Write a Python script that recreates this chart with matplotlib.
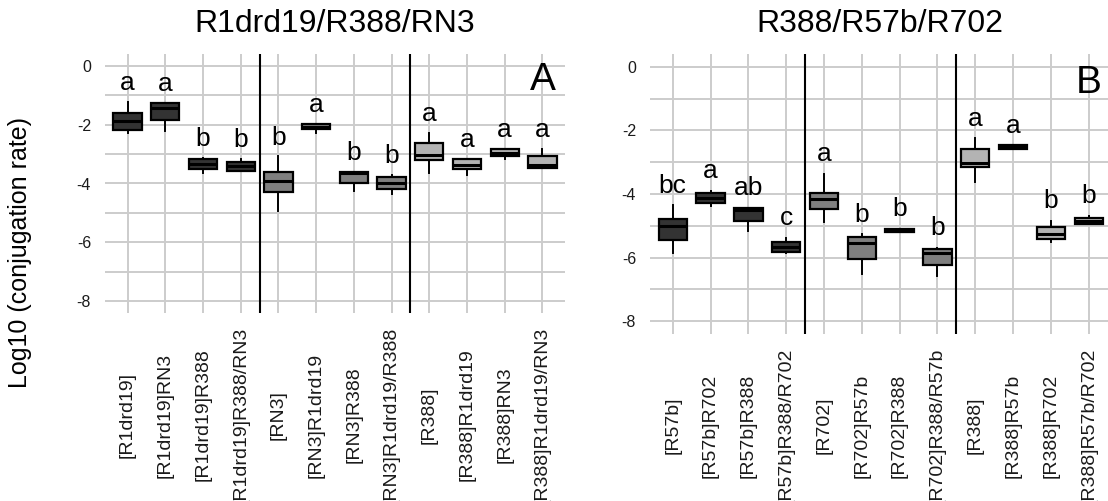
import numpy as np
import matplotlib.pyplot as plt

plt.rcParams['font.family'] = ['Liberation Sans', 'DejaVu Sans']

# R1drd19 / R388 / RN3 combinations
labels_a = ['[R1drd19]', '[R1drd19]RN3', '[R1drd19]R388', '[R1drd19]R388/RN3',
            '[RN3]', '[RN3]R1drd19', '[RN3]R388', '[RN3]R1drd19/R388',
            '[R388]', '[R388]R1drd19', '[R388]RN3', '[R388]R1drd19/RN3']
letters_a = ['a', 'a', 'b', 'b', 'b', 'a', 'b', 'b', 'a', 'a', 'a', 'a']
lo_a = [-2.27, -2.23, -3.66, -3.56, -4.94, -2.27, -4.24, -4.37, -3.64, -3.70, -3.17, -3.47]
q1_a = [-2.17, -1.84, -3.50, -3.56, -4.29, -2.15, -4.00, -4.20, -3.19, -3.50, -3.08, -3.47]
med_a = [-1.87, -1.45, -3.33, -3.41, -3.90, -2.07, -3.66, -3.98, -3.02, -3.38, -2.95, -3.36]
q3_a = [-1.62, -1.27, -3.17, -3.28, -3.62, -1.97, -3.61, -3.79, -2.62, -3.17, -2.83, -3.08]
hi_a = [-1.22, -1.27, -3.13, -3.16, -3.08, -1.97, -3.61, -3.70, -2.29, -3.17, -2.83, -2.83]

# R388 / R57b / R702 combinations
labels_b = ['[R57b]', '[R57b]R702', '[R57b]R388', '[R57b]R388/R702',
            '[R702]', '[R702]R57b', '[R702]R388', '[R702]R388/R57b',
            '[R388]', '[R388]R57b', '[R388]R702', '[R388]R57b/R702']
letters_b = ['bc', 'a', 'ab', 'c', 'a', 'b', 'b', 'b', 'a', 'a', 'b', 'b']
lo_b = [-5.84, -4.38, -5.16, -5.86, -4.88, -6.53, -5.21, -6.58, -3.62, -2.59, -5.51, -4.95]
q1_b = [-5.45, -4.27, -4.85, -5.81, -4.46, -6.03, -5.21, -6.23, -3.15, -2.59, -5.42, -4.95]
med_b = [-5.00, -4.12, -4.50, -5.66, -4.16, -5.55, -5.15, -5.86, -3.02, -2.53, -5.27, -4.85]
q3_b = [-4.80, -3.98, -4.43, -5.51, -3.96, -5.34, -5.09, -5.74, -2.59, -2.47, -5.04, -4.74]
hi_b = [-4.36, -3.90, -4.43, -5.39, -3.36, -5.27, -5.09, -5.69, -2.25, -2.47, -4.85, -4.69]

group_fills = ['#333333', '#7f7f7f', '#b3b3b3']


def draw_panel(ax, labels, letters, lo, q1, med, q3, hi, tag, label_pad):
    n = len(labels)
    pos = np.arange(1, n + 1)
    stats = [dict(whislo=lo[i], q1=q1[i], med=med[i], q3=q3[i], whishi=hi[i], fliers=[])
             for i in range(n)]
    bp = ax.bxp(stats, positions=pos, widths=0.75, patch_artist=True,
                showcaps=False, showfliers=False,
                boxprops=dict(linewidth=1.6, edgecolor='black'),
                medianprops=dict(color='black', linewidth=2.2, solid_capstyle='butt'),
                whiskerprops=dict(color='black', linewidth=1.4),
                zorder=3)
    for i, box in enumerate(bp['boxes']):
        box.set_facecolor(group_fills[i // 4])

    for x in (4.5, 8.5):
        ax.axvline(x, color='black', lw=1.5, zorder=2)

    for i in range(n):
        ax.text(pos[i], hi[i] + 0.4, letters[i], ha='center', va='baseline',
                fontsize=19, zorder=4)
    ax.text(12, -0.5, tag, ha='center', va='center', fontsize=28)

    ax.set_xlim(0.4, 12.6)
    ax.set_ylim(-8.4, 0.4)
    ax.set_yticks([0, -2, -4, -6, -8])
    ax.set_yticklabels(['0', '-2', '-4', '-6', '-8'])
    ax.set_yticks([-1, -3, -5, -7], minor=True)
    ax.set_xticks(pos)
    ax.set_xticklabels(labels, rotation=90, va='center', ha='center', fontsize=14)
    ax.grid(which='both', color='#cccccc', lw=1.4)
    ax.set_axisbelow(True)
    for s in ax.spines.values():
        s.set_visible(False)
    ax.tick_params(which='both', length=0)
    ax.tick_params(axis='y', labelsize=11.5, pad=10, labelcolor='#1a1a1a')
    ax.tick_params(axis='x', pad=label_pad, labelcolor='#1a1a1a')


W, H = 1108, 501
fig = plt.figure(figsize=(W / 100, H / 100), dpi=100)

ax_a = fig.add_axes([105 / W, 1 - 313 / H, 460 / W, 259 / H])
ax_b = fig.add_axes([650 / W, 1 - 334 / H, 461.4 / W, 280 / H])

draw_panel(ax_a, labels_a, letters_a, lo_a, q1_a, med_a, q3_a, hi_a, 'A', 73.4)
draw_panel(ax_b, labels_b, letters_b, lo_b, q1_b, med_b, q3_b, hi_b, 'B', 65.9)

fig.text(335 / W, 1 - 32 / H, 'R1drd19/R388/RN3', ha='center', va='baseline', fontsize=23)
fig.text(880 / W, 1 - 32 / H, 'R388/R57b/R702', ha='center', va='baseline', fontsize=23)
fig.text(20 / W, 1 - 252 / H, 'Log10 (conjugation rate)', rotation=90,
         ha='center', va='center', fontsize=18)

fig.savefig('out.png', dpi=100)
